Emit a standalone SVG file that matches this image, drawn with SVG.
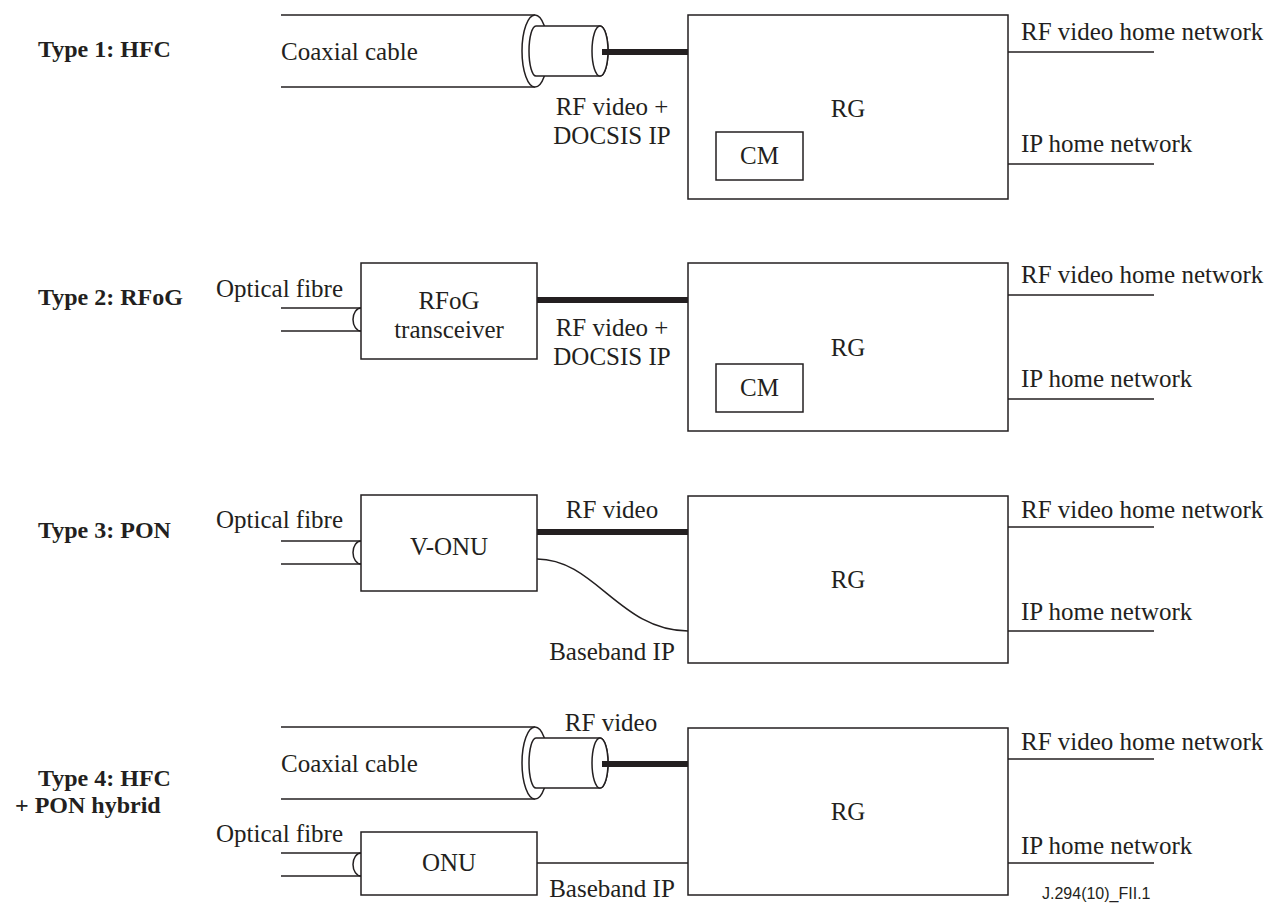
<svg xmlns="http://www.w3.org/2000/svg" xmlns:xlink="http://www.w3.org/1999/xlink" width="1277" height="904" viewBox="0 0 1277 904">
<style>
.t{font-family:"Liberation Serif","Times New Roman",serif;font-size:25px;fill:#231f20}
.m{text-anchor:middle}
.b{font-weight:bold;font-size:24px}
.s{font-family:"Liberation Sans",Arial,sans-serif;font-size:16px;fill:#231f20}
.box{fill:#fff;stroke:#231f20;stroke-width:1.5}
.ln{fill:none;stroke:#231f20;stroke-width:1.5}
.thick{fill:none;stroke:#231f20;stroke-width:6}
</style>
<defs>
<g id="coaxEnd">
<line class="ln" x1="281" y1="-36" x2="535" y2="-36"/>
<line class="ln" x1="281" y1="36" x2="535" y2="36"/>
<ellipse class="box" cx="535" cy="0" rx="13" ry="36"/>
<path class="box" d="M536,-25 H600 A8,25 0 0 1 600,25 H536 A7,25 0 0 1 536,-25 Z"/>
<ellipse class="box" cx="600" cy="0" rx="8" ry="25"/>
</g>
<g id="fibreEnd">
<line class="ln" x1="281" y1="0" x2="361" y2="0"/>
<line class="ln" x1="281" y1="23" x2="361" y2="23"/>
<path class="ln" d="M361,0 A8,11.5 0 0 0 361,23"/>
</g>
</defs>
<rect width="1277" height="904" fill="#fff"/>

<!-- Type labels -->
<g id="labels">
<text class="t b" x="38" y="57">Type 1: HFC</text>
<text class="t b" x="38" y="305">Type 2: RFoG</text>
<text class="t b" x="38" y="538">Type 3: PON</text>
<text class="t b" x="38" y="786">Type 4: HFC</text>
<text class="t b" x="15" y="813">+ PON hybrid</text>
</g>

<!-- Type 1 -->
<g id="coax1">
<use xlink:href="#coaxEnd" href="#coaxEnd" transform="translate(0,51)"/>
<text class="t" x="281" y="60">Coaxial cable</text>
</g>
<g id="rg1">
<rect class="box" x="688" y="15" width="320" height="184"/>
<text class="t m" x="848" y="117">RG</text>
</g>
<g id="cm1">
<rect class="box" x="716" y="132" width="87" height="48"/>
<text class="t m" x="759.5" y="164">CM</text>
</g>

<!-- Type 2 -->
<g id="fibre2">
<use xlink:href="#fibreEnd" href="#fibreEnd" transform="translate(0,308)"/>
<text class="t" x="216" y="297">Optical fibre</text>
</g>
<g id="rfog">
<rect class="box" x="361" y="263" width="176" height="96"/>
<text class="t m" x="449" y="309">RFoG</text>
<text class="t m" x="449" y="338">transceiver</text>
</g>
<g id="rg2">
<rect class="box" x="688" y="263" width="320" height="168"/>
<text class="t m" x="848" y="356">RG</text>
</g>
<g id="cm2">
<rect class="box" x="716" y="364" width="87" height="48"/>
<text class="t m" x="759.5" y="396">CM</text>
</g>

<!-- Type 3 -->
<g id="fibre3">
<use xlink:href="#fibreEnd" href="#fibreEnd" transform="translate(0,541)"/>
<text class="t" x="216" y="528">Optical fibre</text>
</g>
<g id="vonu">
<rect class="box" x="361" y="495" width="176" height="96"/>
<text class="t m" x="449" y="555">V-ONU</text>
</g>
<g id="rg3">
<rect class="box" x="688" y="496" width="320" height="167"/>
<text class="t m" x="848" y="588">RG</text>
</g>

<!-- Type 4 -->
<g id="coax4">
<use xlink:href="#coaxEnd" href="#coaxEnd" transform="translate(0,763)"/>
<text class="t" x="281" y="772">Coaxial cable</text>
</g>
<g id="fibre4">
<use xlink:href="#fibreEnd" href="#fibreEnd" transform="translate(0,853)"/>
<text class="t" x="216" y="842">Optical fibre</text>
</g>
<g id="onu">
<rect class="box" x="361" y="832" width="176" height="63"/>
<text class="t m" x="449" y="871">ONU</text>
</g>
<g id="rg4">
<rect class="box" x="688" y="728" width="320" height="167"/>
<text class="t m" x="848" y="820">RG</text>
</g>

<!-- Connectors -->
<g id="connectors">
<line class="thick" x1="602" y1="52" x2="688" y2="52"/>
<line class="thick" x1="537" y1="300" x2="688" y2="300"/>
<line class="thick" x1="537" y1="532" x2="688" y2="532"/>
<path class="ln" d="M537,559 C595,559 620,631 688,631"/>
<line class="thick" x1="602" y1="764" x2="688" y2="764"/>
<line class="ln" x1="537" y1="863" x2="688" y2="863"/>

<line class="ln" x1="1008" y1="52" x2="1154" y2="52"/>
<line class="ln" x1="1008" y1="164" x2="1154" y2="164"/>
<line class="ln" x1="1008" y1="295" x2="1154" y2="295"/>
<line class="ln" x1="1008" y1="399" x2="1154" y2="399"/>
<line class="ln" x1="1008" y1="527" x2="1154" y2="527"/>
<line class="ln" x1="1008" y1="631" x2="1154" y2="631"/>
<line class="ln" x1="1008" y1="759" x2="1154" y2="759"/>
<line class="ln" x1="1008" y1="863" x2="1154" y2="863"/>
</g>

<!-- Connector labels -->
<g id="connector-labels">
<text class="t m" x="612" y="115">RF video +</text>
<text class="t m" x="612" y="144">DOCSIS IP</text>
<text class="t m" x="612" y="336">RF video +</text>
<text class="t m" x="612" y="365">DOCSIS IP</text>
<text class="t m" x="612" y="518">RF video</text>
<text class="t m" x="612" y="660">Baseband IP</text>
<text class="t m" x="611" y="731">RF video</text>
<text class="t m" x="612" y="897">Baseband IP</text>

<text class="t" x="1021" y="40">RF video home network</text>
<text class="t" x="1021" y="152">IP home network</text>
<text class="t" x="1021" y="283">RF video home network</text>
<text class="t" x="1021" y="387">IP home network</text>
<text class="t" x="1021" y="518">RF video home network</text>
<text class="t" x="1021" y="620">IP home network</text>
<text class="t" x="1021" y="750">RF video home network</text>
<text class="t" x="1021" y="854">IP home network</text>
</g>

<text class="s" x="1042" y="899">J.294(10)_FII.1</text>
</svg>
